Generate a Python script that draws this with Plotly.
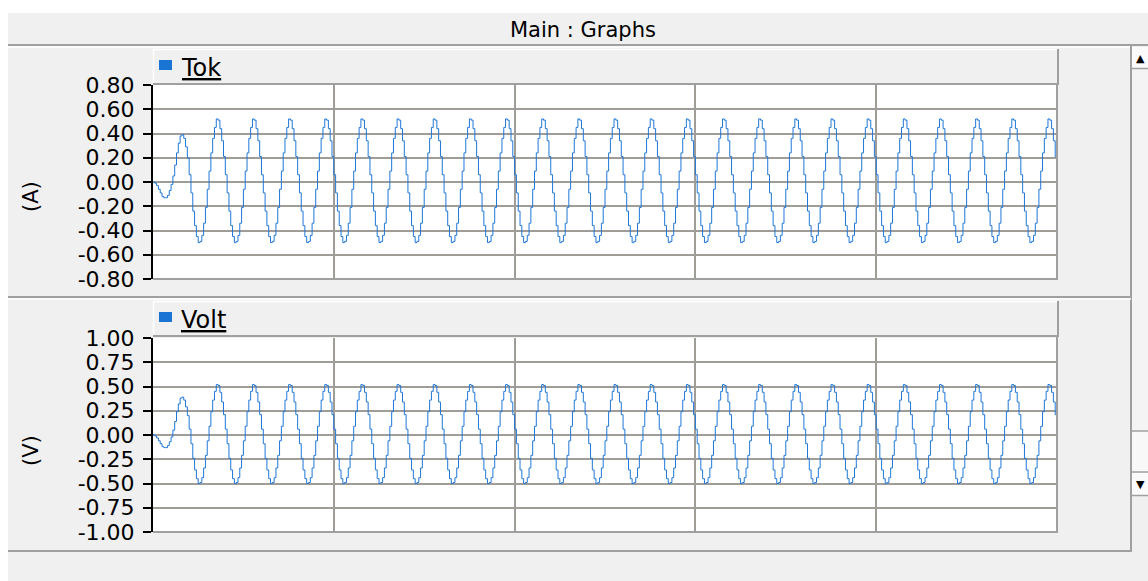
import numpy as np
import plotly.graph_objects as go

# ---------------- data ----------------
dt = 0.001                      # sample step, s
n_cycles = 25                   # 50 Hz over 0.5 s
# first (ramping) cycle, 20 samples
tok_first_cycle = [0.00, -0.01, -0.03, -0.06, -0.09, -0.12, -0.13, -0.13, -0.11, -0.07,
                   -0.02, 0.05, 0.14, 0.24, 0.32, 0.38, 0.39, 0.36, 0.29, 0.20]
# steady-state cycle, 20 samples
tok_cycle = [0.06, -0.09, -0.24, -0.36, -0.45, -0.50, -0.49, -0.44, -0.34, -0.21,
             -0.06, 0.09, 0.24, 0.36, 0.45, 0.52, 0.51, 0.44, 0.34, 0.21]
volt_first_cycle = [0.00, -0.01, -0.03, -0.06, -0.09, -0.12, -0.13, -0.13, -0.11, -0.07,
                    -0.02, 0.05, 0.14, 0.24, 0.32, 0.38, 0.39, 0.36, 0.29, 0.20]
volt_cycle = [0.06, -0.09, -0.24, -0.36, -0.45, -0.50, -0.49, -0.44, -0.34, -0.21,
              -0.06, 0.09, 0.24, 0.36, 0.45, 0.52, 0.51, 0.44, 0.34, 0.21]

tok_tickvals = [0.8, 0.6, 0.4, 0.2, 0.0, -0.2, -0.4, -0.6, -0.8]
tok_ticktext = ["0.80", "0.60", "0.40", "0.20", "0.00", "-0.20", "-0.40", "-0.60", "-0.80"]
volt_tickvals = [1.0, 0.75, 0.5, 0.25, 0.0, -0.25, -0.5, -0.75, -1.0]
volt_ticktext = ["1.00", "0.75", "0.50", "0.25", "0.00", "-0.25", "-0.50", "-0.75", "-1.00"]


def build(first, cycle):
    vals = list(first) + list(cycle) * (n_cycles - 1) + [cycle[0]]
    return np.arange(len(vals)) * dt, vals


t_tok, y_tok = build(tok_first_cycle, tok_cycle)
t_volt, y_volt = build(volt_first_cycle, volt_cycle)

# ---------------- layout helpers ----------------
W, H = 1148, 581
def px(x): return x / W
def py(y): return 1 - y / H

GRID = "#a09c98"
EDGE = "#a0a0a0"
BG = "#f0f0f0"
LINE = "#1f77d8"
FONT = "DejaVu Sans"

fig = go.Figure()
fig.add_trace(go.Scatter(x=t_tok, y=y_tok, mode="lines", line=dict(color=LINE, width=1, shape="hv"),
                         xaxis="x", yaxis="y", showlegend=False, hoverinfo="skip"))
fig.add_trace(go.Scatter(x=t_volt, y=y_volt, mode="lines", line=dict(color=LINE, width=1, shape="hv"),
                         xaxis="x2", yaxis="y2", showlegend=False, hoverinfo="skip"))

xcommon = dict(range=[0, 0.5], dtick=0.1, tick0=0, showticklabels=False, ticks="",
               showgrid=True, gridcolor=GRID, gridwidth=2, zeroline=False, showline=False,
               domain=[px(153), px(1057)], fixedrange=True, automargin=False)
ycommon = dict(ticks="outside", ticklen=8, tickwidth=2, tickcolor="black",
               showline=True, linecolor="black", linewidth=2, showgrid=True,
               gridcolor=GRID, gridwidth=2, zeroline=False, automargin=False,
               tickfont=dict(family=FONT, size=22, color="black"), fixedrange=True,
               ticklabelstandoff=4)

fig.update_layout(
    width=W, height=H, margin=dict(l=0, r=0, t=0, b=0, pad=0, autoexpand=False),
    paper_bgcolor=BG, plot_bgcolor="white",
    xaxis=dict(**xcommon, anchor="y"),
    xaxis2=dict(**xcommon, anchor="y2", matches="x"),
    yaxis=dict(**ycommon, range=[-0.8, 0.8], tickvals=tok_tickvals, ticktext=tok_ticktext,
               domain=[py(279), py(85)], anchor="x"),
    yaxis2=dict(**ycommon, range=[-1.0, 1.0], tickvals=volt_tickvals, ticktext=volt_ticktext,
                domain=[py(532), py(338)], anchor="x2"),
)

shapes = []
def rect(x0, y0, x1, y1, fill, line_color=None, lw=0):
    shapes.append(dict(type="rect", xref="paper", yref="paper", x0=px(x0), x1=px(x1),
                       y0=py(y1), y1=py(y0), fillcolor=fill,
                       line=dict(width=lw, color=line_color or fill), layer="below"))
def hline(y, x0, x1, color, w=2):
    shapes.append(dict(type="line", xref="paper", yref="paper", x0=px(x0), x1=px(x1),
                       y0=py(y), y1=py(y), line=dict(color=color, width=w), layer="above"))
def vline(x, y0, y1, color, w=2):
    shapes.append(dict(type="line", xref="paper", yref="paper", x0=px(x), x1=px(x),
                       y0=py(y0), y1=py(y1), line=dict(color=color, width=w), layer="above"))

# white window edges
rect(0, 0, W, 13, "white")
rect(0, 0, 8, H, "white")
# title separator
hline(45, 8, W, EDGE, 2)
hline(47, 8, 1131, "white", 1.5)
# right divider of panels
vline(1131, 45, 552, EDGE, 2)
# panel separators
hline(297, 8, 1131, EDGE, 2)
hline(299, 8, 1131, "white", 1.5)
hline(551, 8, 1131, EDGE, 2)
# scrollbar
rect(1132, 47, W, 68, "#fbfbfb")
hline(68.5, 1132, W, EDGE, 1.5)
rect(1132, 69, W, 430, "#f4f4f4")
rect(1132, 431, W, 472, "#f8f8f8")
hline(431, 1132, W, EDGE, 1.5)
hline(472, 1132, W, EDGE, 1.5)
rect(1132, 473, W, 495, "#fbfbfb")
hline(495.5, 1132, W, EDGE, 1.5)

# graph headers + legend squares
for top, bottom in [(49, 84), (301, 336)]:
    rect(153, top, 1058, bottom, BG)
    hline(top + 0.5, 153, 1058, "white", 1.5)
    vline(153.5, top, bottom, "white", 1.5)
    vline(1058, top, bottom + 1, EDGE, 2)
    hline(bottom, 153, 1058, EDGE, 2)
    rect(159, top + 11, 172, top + 21, "#1a74d4")

# plot borders (right / bottom in grey)
for yt, yb in [(85, 279), (338, 532)]:
    vline(1057, yt - 1, yb + 1, EDGE, 2)
    hline(yb, 153, 1058, EDGE, 2)

fig.update_layout(shapes=shapes)

ann = []
ann.append(dict(text="Main : Graphs", x=px(583), y=py(30), xref="paper", yref="paper",
                showarrow=False, xanchor="center", yanchor="middle",
                font=dict(family=FONT, size=21, color="black")))
for label, yc in [("Tok", 68), ("Volt", 320)]:
    ann.append(dict(text="<u>" + label + "</u>", x=px(179), y=py(yc), xref="paper", yref="paper",
                    showarrow=False, xanchor="left", yanchor="middle",
                    font=dict(family=FONT, size=24, color="black")))
for label, yc in [("(A)", 197), ("(V)", 451)]:
    ann.append(dict(text=label, x=px(31), y=py(yc), xref="paper", yref="paper",
                    showarrow=False, xanchor="center", yanchor="middle", textangle=-90,
                    font=dict(family=FONT, size=21, color="black")))
# scroll arrows (partly hidden at the window edge, as in the reference)
ann.append(dict(text="▲", x=px(1147), y=py(58), xref="paper", yref="paper", showarrow=False,
                xanchor="right", yanchor="middle", font=dict(family=FONT, size=11, color="black")))
ann.append(dict(text="▼", x=px(1147), y=py(484), xref="paper", yref="paper", showarrow=False,
                xanchor="right", yanchor="middle", font=dict(family=FONT, size=11, color="black")))
fig.update_layout(annotations=ann)

fig.write_html("out.html", config={"displayModeBar": False},
               post_script="document.body.style.margin='0';document.body.style.overflow='hidden';")
